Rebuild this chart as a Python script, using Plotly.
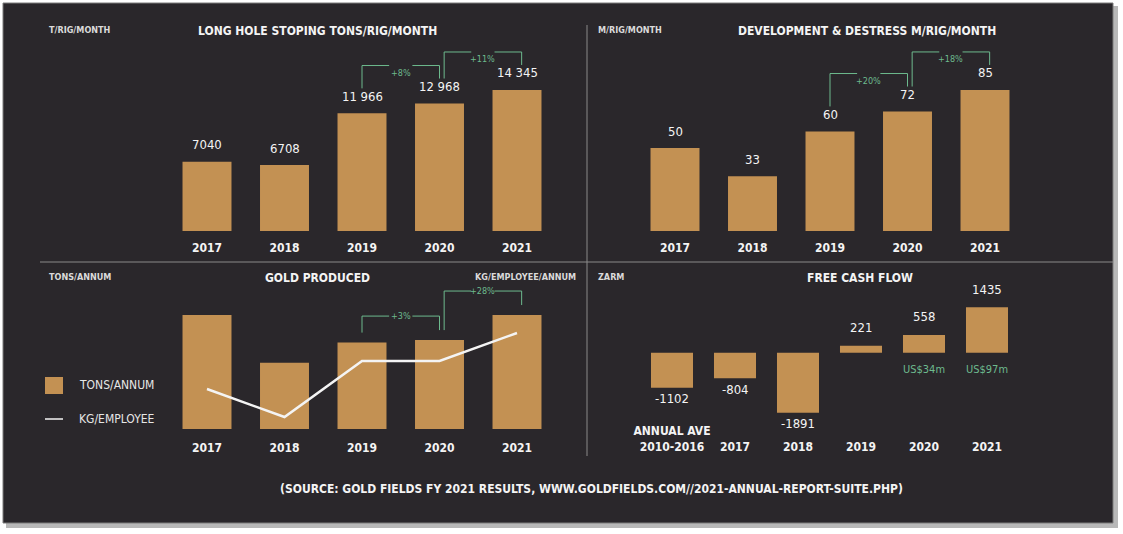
import plotly.graph_objects as go

W, H = 1123, 534

# ---- data ----
years = ["2017", "2018", "2019", "2020", "2021"]
stoping_tons = [7040, 6708, 11966, 12968, 14345]
stoping_text = ["7040", "6708", "11 966", "12 968", "14 345"]
stoping_growth = [(2, 3, "+8%"), (3, 4, "+11%")]

dev_metres = [50, 33, 60, 72, 85]
dev_text = ["50", "33", "60", "72", "85"]
dev_growth = [(2, 3, "+20%"), (3, 4, "+18%")]

gold_tons = [9.1, 5.3, 6.9, 7.1, 9.1]
kg_per_employee = [2.4, 1.9, 2.9, 2.9, 3.4]
gold_growth = [(2, 3, "+3%"), (3, 4, "+28%")]

fcf_periods = ["2010-2016", "2017", "2018", "2019", "2020", "2021"]
fcf_tick_labels = ["ANNUAL AVE<br>2010-2016", "2017", "2018", "2019", "2020", "2021"]
fcf_zarm = [-1102, -804, -1891, 221, 558, 1435]
fcf_text = ["-1102", "-804", "-1891", "221", "558", "1435"]
fcf_usd = [None, None, None, None, "US$34m", "US$97m"]

source_text = "(SOURCE: GOLD FIELDS FY 2021 RESULTS, WWW.GOLDFIELDS.COM//2021-ANNUAL-REPORT-SUITE.PHP)"

# ---- style ----
BG = "#2a272b"
BAR = "#c39153"
GREEN = "#6dba8e"
WHITE = "#f4f4f4"
GREY = "#8a8a8a"
NARROW = "Liberation Sans Narrow, DejaVu Sans Condensed, Arial Narrow, sans-serif"
COND = "DejaVu Sans Condensed, Liberation Sans Narrow, sans-serif"

# panel geometry in pixels (left, right, bottom, top) and value range
panels = {
    "tl": dict(xa="x", ya="y", left=168.25, right=555.75, bottom=231, top=40, lo=0, hi=19430),
    "tr": dict(xa="x2", ya="y2", left=636.25, right=1023.75, bottom=231, top=40, lo=0, hi=115.1),
    "bl": dict(xa="x3", ya="y3", left=168.25, right=555.75, bottom=429, top=290, lo=0, hi=11.1),
    "br": dict(xa="x4", ya="y4", left=640.5, right=1018.5, bottom=422, top=285, lo=-2183, hi=2133),
}


def px_x(p):
    return p / W


def px_y(p):
    return 1 - p / H


def py_of(panel, v):
    p = panels[panel]
    return p["bottom"] - (v - p["lo"]) / (p["hi"] - p["lo"]) * (p["bottom"] - p["top"])


fig = go.Figure()

# bars
bar_style = dict(marker_color=BAR, marker_line_width=0)
fig.add_bar(x=years, y=stoping_tons, xaxis="x", yaxis="y", width=0.632, **bar_style)
fig.add_bar(x=years, y=dev_metres, xaxis="x2", yaxis="y2", width=0.632, **bar_style)
fig.add_bar(x=years, y=gold_tons, xaxis="x3", yaxis="y3", width=0.632, **bar_style)
fig.add_trace(go.Scatter(x=years, y=kg_per_employee, xaxis="x3", yaxis="y5", mode="lines",
                         line=dict(color=WHITE, width=2.5)))
fig.add_bar(x=fcf_periods, y=fcf_zarm, xaxis="x4", yaxis="y4", width=0.667, **bar_style)

annotations = []
shapes = []


def value_labels(panel, vals, texts, shift):
    # category names look like numbers, so place by category index
    p = panels[panel]
    for i, (v, t) in enumerate(zip(vals, texts)):
        annotations.append(dict(x=i, y=v, xref=p["xa"], yref=p["ya"], text=t, showarrow=False,
                                yshift=shift if v >= 0 else -11, yanchor="middle",
                                font=dict(family=NARROW, size=13, color=WHITE)))


value_labels("tl", stoping_tons, stoping_text, 17)
value_labels("tr", dev_metres, dev_text, 17)
value_labels("br", fcf_zarm, fcf_text, 18)

for i, t in enumerate(fcf_usd):
    if t:
        annotations.append(dict(x=i, y=0, xref="x4", yref="y4", text=t, showarrow=False, yshift=-17,
                                font=dict(family=NARROW, size=11, color=GREEN)))


def brackets(panel, pairs, tops, gap, rise):
    p = panels[panel]
    prev_right = None
    for k, (i, j, txt) in enumerate(pairs):
        xl = i + (0.06 if k else 0)
        xr = j + (0.06 if k else 0)
        yl = prev_right if prev_right is not None else tops[i] - gap
        yr = tops[j] - gap
        yb = min(yl, yr) - rise
        xm = (xl + xr) / 2
        segs = [(xl, yl, xl, yb), (xl, yb, xm - 0.15, yb), (xm + 0.15, yb, xr, yb), (xr, yb, xr, yr)]
        for x0, y0, x1, y1 in segs:
            shapes.append(dict(type="line", xref=p["xa"], yref="paper", x0=x0, x1=x1,
                               y0=px_y(y0), y1=px_y(y1), line=dict(color=GREEN, width=1)))
        annotations.append(dict(x=xm, y=px_y(yb), xref=p["xa"], yref="paper", text=txt,
                                showarrow=False, font=dict(family=NARROW, size=9, color=GREEN)))
        prev_right = yr


brackets("tl", stoping_growth, [py_of("tl", v) - 23 for v in stoping_tons], 2, 13)
brackets("tr", dev_growth, [py_of("tr", v) - 23 for v in dev_metres], 2, 13)
brackets("bl", gold_growth, [py_of("bl", v) for v in gold_tons], 10, 14)


def text_px(x, y, t, size, anchor="left", family=COND, color=WHITE):
    annotations.append(dict(x=px_x(x), y=px_y(y), xref="paper", yref="paper", text=t, showarrow=False,
                            xanchor=anchor, yanchor="middle", font=dict(family=family, size=size, color=color)))


# panel unit labels and titles
UNIT = "#dadada"
text_px(47, 30, "<b>T/RIG/MONTH</b>", 9, color=UNIT)
text_px(596, 30, "<b>M/RIG/MONTH</b>", 9, color=UNIT)
text_px(47, 277, "<b>TONS/ANNUM</b>", 9, color=UNIT)
text_px(578, 277, "<b>KG/EMPLOYEE/ANNUM</b>", 9, anchor="right", color=UNIT)
text_px(596, 277, "<b>ZARM</b>", 9, color=UNIT)
text_px(317, 31, "<b>LONG HOLE STOPING TONS/RIG/MONTH</b>", 12, anchor="center")
text_px(867, 31, "<b>DEVELOPMENT &amp; DESTRESS M/RIG/MONTH</b>", 12, anchor="center")
text_px(317, 278, "<b>GOLD PRODUCED</b>", 12, anchor="center")
text_px(860, 278, "<b>FREE CASH FLOW</b>", 12, anchor="center")
text_px(591, 489, "<b>" + source_text + "</b>", 12, anchor="center")

# legend for the gold panel
shapes.append(dict(type="rect", xref="paper", yref="paper", x0=px_x(45), x1=px_x(63),
                   y0=px_y(394), y1=px_y(377), fillcolor=BAR, line=dict(width=0)))
shapes.append(dict(type="line", xref="paper", yref="paper", x0=px_x(45), x1=px_x(63),
                   y0=px_y(419), y1=px_y(419), line=dict(color=WHITE, width=1.5)))
text_px(77, 385, "TONS/ANNUM", 12, color="#e6e6e6")
text_px(77, 419, "KG/EMPLOYEE", 12, color="#e6e6e6")

# frame, shadow and dividers
shapes.insert(0, dict(type="rect", xref="paper", yref="paper", x0=px_x(6), x1=px_x(1118),
                      y0=px_y(528), y1=px_y(6), fillcolor="#b8b8b8", line=dict(width=0), layer="below"))
shapes.insert(1, dict(type="rect", xref="paper", yref="paper", x0=px_x(3), x1=px_x(1113),
                      y0=px_y(523), y1=px_y(3), fillcolor=BG, line=dict(color="#7d7d7d", width=1),
                      layer="below"))
shapes.append(dict(type="line", xref="paper", yref="paper", x0=px_x(40), x1=px_x(1113),
                   y0=px_y(262), y1=px_y(262), line=dict(color=GREY, width=1)))
shapes.append(dict(type="line", xref="paper", yref="paper", x0=px_x(587), x1=px_x(587),
                   y0=px_y(25), y1=px_y(456), line=dict(color=GREY, width=1)))


def axes(panel, standoff, ticktext):
    p = panels[panel]
    xname = "xaxis" + p["xa"][1:]
    yname = "yaxis" + p["ya"][1:]
    n = len(ticktext)
    xa = dict(type="category", domain=[px_x(p["left"]), px_x(p["right"])], anchor=p["ya"],
              range=[-0.5, n - 0.5], autorange=False, automargin=False,
              tickvals=list(range(n)), ticktext=ticktext, tickangle=0,
              showgrid=False, zeroline=False, showline=False, ticks="", ticklabelstandoff=standoff,
              tickfont=dict(family=COND, size=12, color=WHITE, weight="bold"), fixedrange=True)
    ya = dict(domain=[px_y(p["bottom"]), px_y(p["top"])], anchor=p["xa"], range=[p["lo"], p["hi"]],
              autorange=False, automargin=False, visible=False, showgrid=False, zeroline=False,
              fixedrange=True)
    return {xname: xa, yname: ya}


fcf_ticks = [t if "<br>" in t else " <br>" + t for t in fcf_tick_labels]

layout_axes = {}
layout_axes.update(axes("tl", 8, years))
layout_axes.update(axes("tr", 8, years))
layout_axes.update(axes("bl", 10, years))
layout_axes.update(axes("br", 0, fcf_ticks))
layout_axes["yaxis5"] = dict(overlaying="y3", anchor="x3", range=[1.686, 4.168], autorange=False,
                             visible=False, showgrid=False, zeroline=False)

fig.update_layout(
    width=W, height=H,
    margin=dict(l=0, r=0, t=0, b=0, autoexpand=False),
    paper_bgcolor="white",
    plot_bgcolor="rgba(0,0,0,0)",
    showlegend=False,
    annotations=annotations,
    shapes=shapes,
    **layout_axes,
)

fig.write_html("out.html", config={"displayModeBar": False},
               post_script="document.body.style.margin='0px';")
